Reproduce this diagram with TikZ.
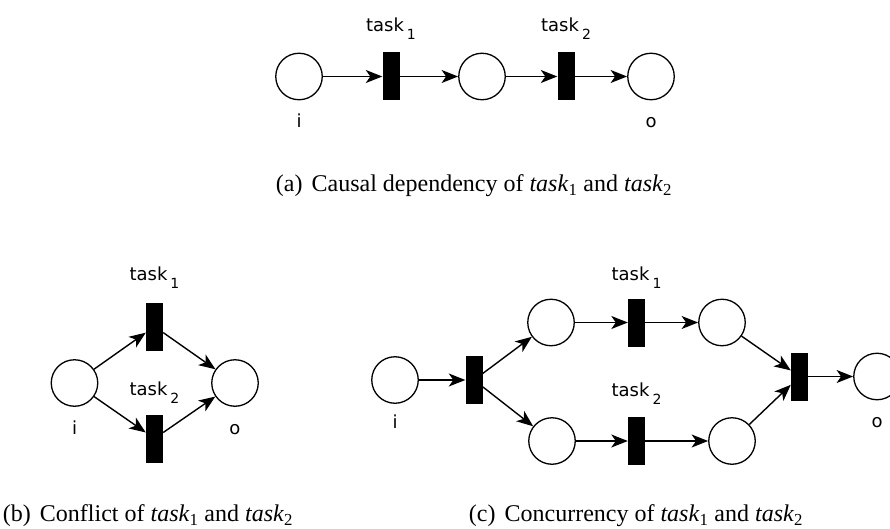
\documentclass[tikz,border=0pt]{standalone}
\usepackage{fontspec}
\setmainfont{Liberation Serif}
\newfontfamily\labfont{DejaVu Sans}
\usetikzlibrary{arrows.meta}
\newcommand{\tlab}[1]{\labfont\fontsize{18}{18}\selectfont task\hspace{3pt}\raisebox{-8pt}{\fontsize{14}{14}\selectfont #1}}
\newcommand{\plab}[1]{\labfont\fontsize{18}{18}\selectfont #1}
\newcommand{\capt}[2]{\fontsize{24}{24}\selectfont (#1)\hspace{9pt}#2 of \textit{task}\textsubscript{1} and \textit{task}\textsubscript{2}}
\begin{document}
\begin{tikzpicture}[x=1pt,y=-1pt,
  place/.style={circle,draw,line width=1.3pt,minimum size=46.5pt,inner sep=0pt},
  trans/.style={rectangle,fill=black,draw=none,minimum width=17pt,minimum height=48pt,inner sep=0pt},
  arc/.style={-{Stealth[length=16.5pt,width=13pt,inset=4.5pt]},line width=1.4pt},
  lbl/.style={anchor=base,inner sep=0pt},
  captext/.style={anchor=base,inner sep=0pt}]
\useasboundingbox (0,0) rectangle (890,529);
% (a)
\node[place] (ai) at (299,76.5) {};
\node[trans] (at1) at (391,76.5) {};
\node[place] (am) at (482,76.5) {};
\node[trans] (at2) at (566,76.5) {};
\node[place] (ao) at (651,76.5) {};
\draw[arc] (ai) -- (at1);
\draw[arc] (at1) -- (am);
\draw[arc] (am) -- (at2);
\draw[arc] (at2) -- (ao);
\node[lbl] (lat1) at (391,31.5) {\tlab{1}};
\node[lbl] (lat2) at (566,31.5) {\tlab{2}};
\node[lbl] (lai) at (299,128) {\plab{i}};
\node[lbl] (lao) at (651,128) {\plab{o}};
\node[captext] (capa) at (474,192) {\capt{a}{Causal dependency}};
% (b)
\node[place] (bi) at (74.5,383) {};
\node[trans] (bt1) at (154.5,326.5) {};
\node[trans] (bt2) at (154.5,438.5) {};
\node[place] (bo) at (235,383) {};
\draw[arc] (bi) -- (bt1);
\draw[arc] (bi) -- (bt2);
\draw[arc] (bt1) -- (bo);
\draw[arc] (bt2) -- (bo);
\node[lbl] (lbt1) at (154.5,280) {\tlab{1}};
\node[lbl] (lbt2) at (154.5,395) {\tlab{2}};
\node[lbl] (lbi) at (74.5,434) {\plab{i}};
\node[lbl] (lbo) at (235,434) {\plab{o}};
\node[captext] (capb) at (148,521.5) {\capt{b}{Conflict}};
% (c)
\node[place] (ci) at (395,380) {};
\node[trans] (ct0) at (474,380) {};
\node[place] (cp1) at (551,322.5) {};
\node[trans] (ct1) at (636.5,322.5) {};
\node[place] (cp2) at (722,322.5) {};
\node[place] (cp3) at (552,441) {};
\node[trans] (ct2) at (636.5,441) {};
\node[place] (cp4) at (732,441) {};
\node[trans] (ct3) at (799.5,376.5) {};
\node[place] (co) at (877,376.5) {};
\draw[arc] (ci) -- (ct0);
\draw[arc] (ct0) -- (cp1);
\draw[arc] (ct0) -- (cp3);
\draw[arc] (cp1) -- (ct1);
\draw[arc] (ct1) -- (cp2);
\draw[arc] (cp3) -- (ct2);
\draw[arc] (ct2) -- (cp4);
\draw[arc] (cp2) -- (ct3);
\draw[arc] (cp4) -- (ct3);
\draw[arc] (ct3) -- (co);
\node[lbl] (lct1) at (636.5,280) {\tlab{1}};
\node[lbl] (lct2) at (636.5,396.5) {\tlab{2}};
\node[lbl] (lci) at (395,428) {\plab{i}};
\node[lbl] (lco) at (877,427) {\plab{o}};
\node[captext] (capc) at (636,521.5) {\capt{c}{Concurrency}};
\end{tikzpicture}
\end{document}
